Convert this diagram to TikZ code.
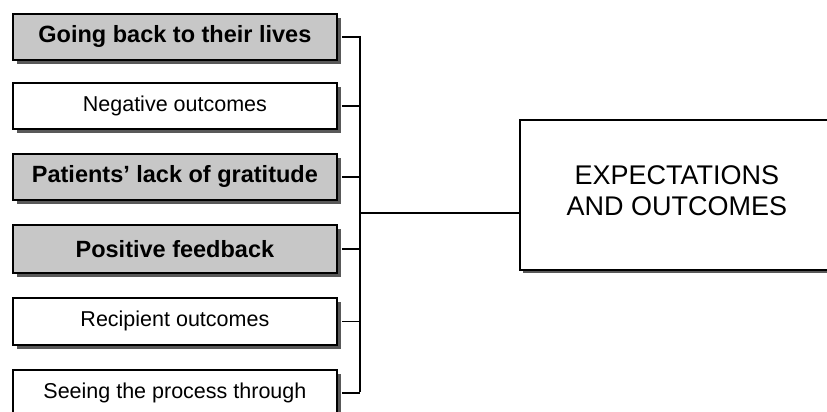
\documentclass[tikz,border=0pt]{standalone}
\usepackage{fontspec}
\setmainfont{Liberation Sans}
\usetikzlibrary{shadows}
\begin{document}
\begin{tikzpicture}[x=1pt,y=-1pt,
  item/.style={draw=black, line width=1.8pt, rectangle, minimum width=324pt,
    minimum height=46pt, inner sep=0pt, anchor=north west,
    font=\fontsize{21.5}{26}\selectfont,
    drop shadow={shadow xshift=4pt, shadow yshift=-4pt, fill=black!65, opacity=1}},
  hot/.style={item, fill=black!22, font=\fontsize{23.5}{26}\selectfont\bfseries},
  plain/.style={item, fill=white},
  hub/.style={draw=black, line width=1.8pt, rectangle, anchor=north west,
    minimum width=314pt, minimum height=150pt, inner sep=0pt,
    fill=white,
    drop shadow={shadow xshift=3pt, shadow yshift=-3pt, fill=black!65, opacity=1}},
  hubtext/.style={align=center, font=\fontsize{27}{31}\selectfont},
  link/.style={draw=black, line width=1.6pt}
]
\useasboundingbox (0,0) rectangle (827,412);
\clip (0,0) rectangle (827,412);

% theme boxes
\node[hot]   (b1) at (12,13)  {Going back to their lives};
\node[plain] (b2) at (12,82)  {Negative outcomes};
\node[hot]   (b3) at (12,153) {Patients' lack of gratitude};
\node[hot, minimum height=48pt] (b4) at (12,224) {Positive feedback};
\node[plain, minimum height=47pt] (b5) at (12,297) {Recipient outcomes};
\node[plain] (b6) at (12,369) {Seeing the process through};

% central theme
\node[hub, label={[hubtext, yshift=4pt]center:EXPECTATIONS\\AND OUTCOMES}]
  (main) at (519,119) {};

% bracket joining the themes
\coordinate (top) at (360,36);
\coordinate (bot) at (360,392);
\coordinate (join) at (360,213);
\draw[link] (top) -- (bot);
\foreach \b in {b1,b2,b3,b4,b5,b6}
  \draw[link] ([xshift=4pt]\b.east) -- (\b.east -| top);
\draw[link] (join) -- (join -| main.west);
\end{tikzpicture}
\end{document}
